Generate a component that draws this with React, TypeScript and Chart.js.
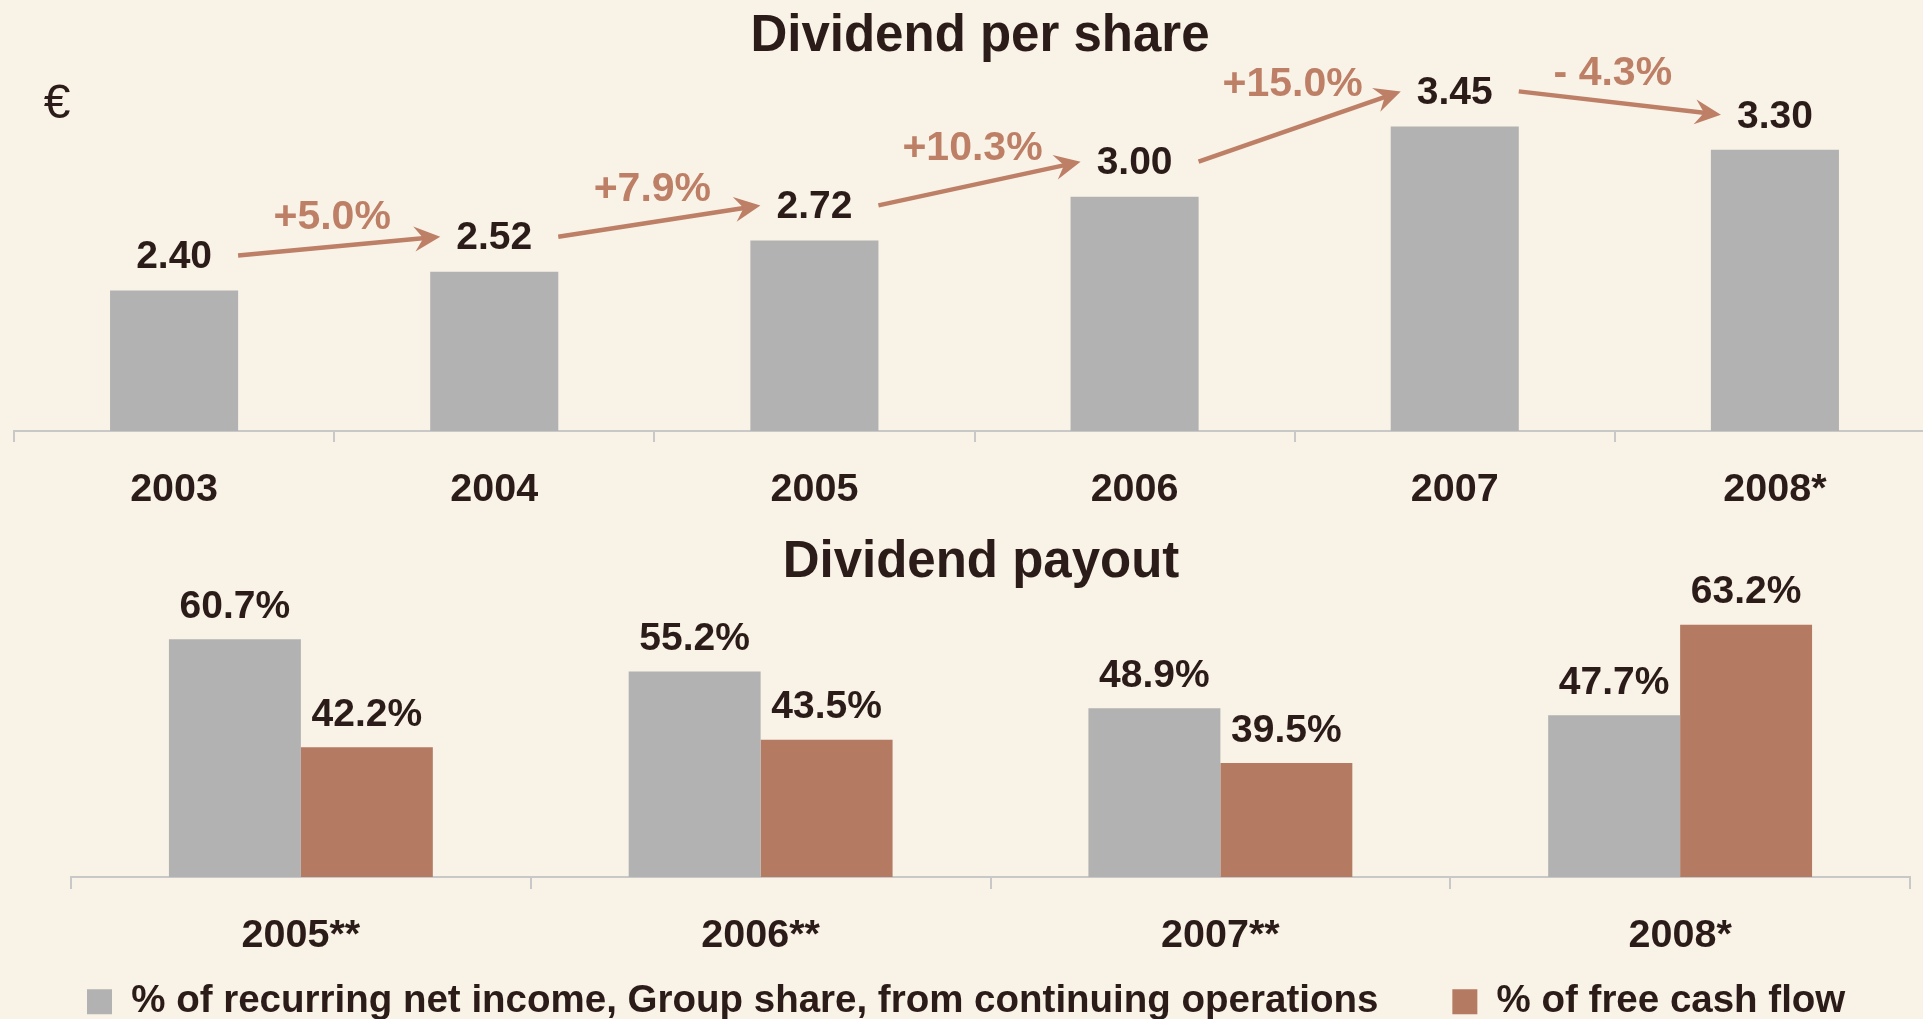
import React, { useEffect, useRef } from 'react';
import { Chart, registerables } from 'chart.js';

Chart.register(...registerables);

// ---------- data ----------
const years = ['2003', '2004', '2005', '2006', '2007', '2008*'];
const dividendPerShare = [2.40, 2.52, 2.72, 3.00, 3.45, 3.30];
const growthLabels = ['+5.0%', '+7.9%', '+10.3%', '+15.0%', '- 4.3%'];

const payoutYears = ['2005**', '2006**', '2007**', '2008*'];
const payoutNetIncome = [60.7, 55.2, 48.9, 47.7];
const payoutFreeCashFlow = [42.2, 43.5, 39.5, 63.2];
const seriesNames = [
  '% of recurring net income, Group share, from continuing operations',
  '% of free cash flow',
];
const chartTitles = ['Dividend per share', 'Dividend payout'];
const unitLabel = '€';

// ---------- styles ----------
const FONT = '"Liberation Sans", Arial, Helvetica, sans-serif';
const BG = '#F9F2E7';
const DARK = '#2B1C19';
const GRAY = '#B2B2B2';
const BROWN = '#B57A62';
const ARROW = '#BD7F66';
const AXIS = '#C8C8C8';

function drawArrow(ctx: CanvasRenderingContext2D, x1: number, y1: number, x2: number, y2: number) {
  const ang = Math.atan2(y2 - y1, x2 - x1);
  const c = Math.cos(ang);
  const s = Math.sin(ang);
  const headLen = 26;
  const headHalf = 12.5;
  const notch = 9;
  ctx.strokeStyle = ARROW;
  ctx.fillStyle = ARROW;
  ctx.lineWidth = 4.5;
  ctx.lineCap = 'butt';
  ctx.beginPath();
  ctx.moveTo(x1, y1);
  ctx.lineTo(x2 - c * (headLen - notch - 2), y2 - s * (headLen - notch - 2));
  ctx.stroke();
  const bx = x2 - c * headLen;
  const by = y2 - s * headLen;
  ctx.beginPath();
  ctx.moveTo(x2, y2);
  ctx.lineTo(bx - s * headHalf, by + c * headHalf);
  ctx.lineTo(x2 - c * (headLen - notch), y2 - s * (headLen - notch));
  ctx.lineTo(bx + s * headHalf, by - c * headHalf);
  ctx.closePath();
  ctx.fill();
}

const topAnnotations = {
  id: 'topAnnotations',
  afterDatasetsDraw(chart: any) {
    const ctx: CanvasRenderingContext2D = chart.ctx;
    const meta = chart.getDatasetMeta(0);
    const pts = meta.data.map((bar: any) => ({ x: bar.x, y: bar.y - 33 }));
    ctx.save();
    ctx.textAlign = 'center';
    ctx.textBaseline = 'middle';
    ctx.font = `bold 39px ${FONT}`;
    ctx.fillStyle = DARK;
    pts.forEach((p: any, i: number) => ctx.fillText(dividendPerShare[i].toFixed(2), p.x, p.y));
    for (let i = 0; i < pts.length - 1; i++) {
      const x1 = pts[i].x + 64;
      const y1 = pts[i].y - 2;
      const x2 = pts[i + 1].x - 54;
      const y2 = pts[i + 1].y - 2;
      drawArrow(ctx, x1, y1, x2, y2);
      const mx = (x1 + x2) / 2 - 7;
      const my = (y1 + y2) / 2 - (24 + 0.25 * Math.abs(y2 - y1));
      ctx.font = `bold 41px ${FONT}`;
      ctx.fillStyle = ARROW;
      ctx.fillText(growthLabels[i], mx, my);
    }
    ctx.font = `48px ${FONT}`;
    ctx.fillStyle = DARK;
    ctx.fillText(unitLabel, chart.chartArea.left + 43, chart.chartArea.top + 33);
    ctx.restore();
  },
};

const bottomAnnotations = {
  id: 'bottomAnnotations',
  afterDatasetsDraw(chart: any) {
    const ctx: CanvasRenderingContext2D = chart.ctx;
    ctx.save();
    ctx.textAlign = 'center';
    ctx.textBaseline = 'middle';
    ctx.font = `bold 39px ${FONT}`;
    ctx.fillStyle = DARK;
    chart.data.datasets.forEach((ds: any, di: number) => {
      const meta = chart.getDatasetMeta(di);
      meta.data.forEach((bar: any, i: number) => {
        ctx.fillText(ds.data[i].toFixed(1) + '%', bar.x, bar.y - 32);
      });
    });
    ctx.restore();
  },
};

export default function App() {
  const topRef = useRef<HTMLCanvasElement>(null);
  const botRef = useRef<HTMLCanvasElement>(null);

  useEffect(() => {
    Chart.defaults.font.family = FONT;
    const top = new Chart(topRef.current as HTMLCanvasElement, {
      type: 'bar',
      data: {
        labels: years,
        datasets: [
          {
            data: dividendPerShare,
            backgroundColor: GRAY,
            categoryPercentage: 0.4,
            barPercentage: 1,
          },
        ],
      },
      options: {
        responsive: false,
        animation: false,
        layout: { padding: { left: 14, right: 0, top: 0, bottom: 0 } },
        plugins: {
          legend: { display: false },
          tooltip: { enabled: false },
          title: {
            display: true,
            text: chartTitles[0],
            color: DARK,
            font: { family: FONT, size: 51, weight: 'bold' },
            padding: { top: 6.7, bottom: 3.8 },
          },
        },
        scales: {
          x: {
            grid: {
              display: true,
              drawOnChartArea: false,
              drawTicks: true,
              tickLength: 11,
              color: AXIS,
              lineWidth: 2,
              offset: true,
            },
            border: { display: true, color: AXIS, width: 2 },
            ticks: { color: DARK, font: { family: FONT, size: 39.5, weight: 'bold' }, padding: 24.3 },
          },
          y: {
            position: 'right',
            min: 1.5,
            max: 3.8,
            ticks: { display: false },
            grid: { display: false },
            border: { display: false },
            afterFit: (s: any) => {
              s.width = 11;
            },
          },
        },
      } as any,
      plugins: [topAnnotations],
    });

    const bottom = new Chart(botRef.current as HTMLCanvasElement, {
      type: 'bar',
      data: {
        labels: payoutYears,
        datasets: [
          {
            label: seriesNames[0],
            data: payoutNetIncome,
            backgroundColor: GRAY,
            categoryPercentage: 0.574,
            barPercentage: 1,
          },
          {
            label: seriesNames[1],
            data: payoutFreeCashFlow,
            backgroundColor: BROWN,
            categoryPercentage: 0.574,
            barPercentage: 1,
          },
        ],
      },
      options: {
        responsive: false,
        animation: false,
        layout: { padding: { left: 13, right: 0, top: 0, bottom: 0 } },
        plugins: {
          tooltip: { enabled: false },
          title: {
            display: true,
            text: chartTitles[1],
            color: DARK,
            font: { family: FONT, size: 51, weight: 'bold' },
            padding: { top: 20.7, bottom: 14.5 },
          },
          legend: {
            display: true,
            position: 'bottom',
            align: 'start',
            labels: {
              boxWidth: 25,
              boxHeight: 25,
              padding: 74,
              color: DARK,
              font: { family: FONT, size: 38.5, weight: 'bold' },
            },
          },
        },
        scales: {
          x: {
            grid: {
              display: true,
              drawOnChartArea: false,
              drawTicks: true,
              tickLength: 198,
              tickBorderDash: [11, 3000],
              color: AXIS,
              lineWidth: 2,
              offset: true,
            },
            border: { display: true, color: AXIS, width: 2 },
            ticks: {
              color: DARK,
              font: { family: FONT, size: 39.5, weight: 'bold' },
              mirror: true,
              padding: -83.2,
            },
          },
          y: {
            position: 'left',
            min: 20,
            max: 66,
            ticks: { display: false },
            grid: { display: false },
            border: { display: false },
            afterFit: (s: any) => {
              s.width = 58;
            },
          },
          yPad: {
            type: 'linear',
            position: 'right',
            ticks: { display: false },
            grid: { display: false },
            border: { display: false },
            afterFit: (s: any) => {
              s.width = 39;
            },
          },
        },
      } as any,
      plugins: [bottomAnnotations],
    });

    return () => {
      top.destroy();
      bottom.destroy();
    };
  }, []);

  return (
    <div
      style={{
        position: 'fixed',
        left: 0,
        top: 0,
        width: 1923,
        height: 1019,
        overflow: 'hidden',
        background: BG,
      }}
    >
      <canvas
        ref={topRef}
        width={1946}
        height={538}
        style={{ position: 'absolute', left: 0, top: 0, width: 1946, height: 538, display: 'block' }}
      />
      <canvas
        ref={botRef}
        width={1949}
        height={519}
        style={{ position: 'absolute', left: 0, top: 512, width: 1949, height: 519, display: 'block' }}
      />
    </div>
  );
}
